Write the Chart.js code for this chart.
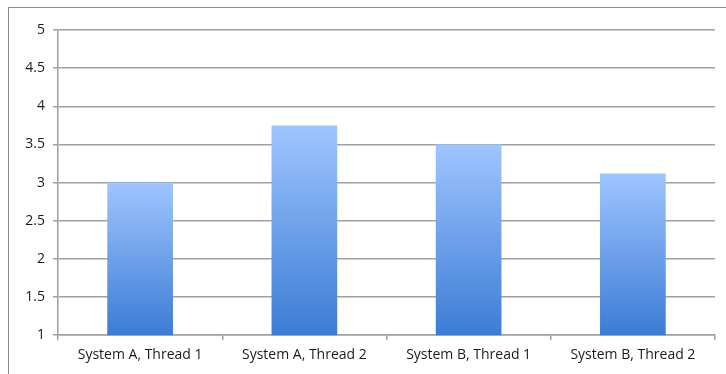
<!DOCTYPE html>
<html>
<head>
<meta charset="utf-8">
<script src="https://cdn.jsdelivr.net/npm/chart.js@4"></script>
<style>
  html, body { margin: 0; padding: 0; background: #fff; }
  #wrap { position: relative; width: 726px; height: 374px; overflow: hidden; }
  #frame { position: absolute; left: 8px; top: 7px; width: 730px; height: 380px; border: 1px solid #8c8c8c; box-sizing: border-box; }
  canvas { position: absolute; left: 0; top: 0; }
</style>
</head>
<body>
<div id="wrap">
  <div id="frame"></div>
  <canvas id="myBarChart" width="726" height="374"></canvas>
</div>
<script>
// categories and values
const categories = ["System A, Thread 1", "System A, Thread 2", "System B, Thread 1", "System B, Thread 2"];
const values = [3.0, 3.75, 3.5, 3.12];
const yTicks = [1, 1.5, 2, 2.5, 3, 3.5, 4, 4.5, 5];

function barGradient(ctx) {
    const chart = ctx.chart;
    const area = chart.chartArea;
    if (!area || ctx.raw === undefined) return "#6a9ee8";
    const top = chart.scales.y.getPixelForValue(ctx.raw);
    const g = chart.ctx.createLinearGradient(0, top, 0, area.bottom);
    g.addColorStop(0, "#9fc5ff");
    g.addColorStop(1, "#3c7cd5");
    return g;
}

const cv = document.getElementById("myBarChart").getContext('2d');
const myBarChart = new Chart(cv, {
    type: 'bar',
    data: {
        labels: categories,
        datasets: [{
            data: values,
            backgroundColor: barGradient,
            borderWidth: 0,
            categoryPercentage: 0.8,
            barPercentage: 0.5
        }]
    },
    options: {
        responsive: false,
        animation: false,
        layout: {
            padding: { top: 30, right: 11, bottom: 5, left: 0 }
        },
        scales: {
            x: {
                grid: {
                    drawOnChartArea: false,
                    drawTicks: true,
                    tickLength: 5,
                    color: "#a0a0a0",
                    lineWidth: 1.5
                },
                border: { color: "#a0a0a0", width: 1.5 },
                ticks: {
                    color: "#1a1a1a",
                    padding: 6,
                    font: { family: "'Open Sans', 'Liberation Sans', sans-serif", size: 14 }
                }
            },
            y: {
                min: 1,
                max: 5,
                afterBuildTicks: (axis) => { axis.ticks = yTicks.map(v => ({ value: v })); },
                afterFit: (axis) => { axis.width = 58; },
                grid: {
                    color: "#a0a0a0",
                    lineWidth: 1.5,
                    tickLength: 5
                },
                border: { color: "#a0a0a0", width: 1.5 },
                ticks: {
                    color: "#1a1a1a",
                    padding: 8,
                    font: { family: "'Open Sans', 'Liberation Sans', sans-serif", size: 14 },
                    callback: (v) => String(v)
                }
            }
        },
        plugins: {
            legend: { display: false },
            tooltip: { enabled: false }
        }
    }
});
</script>
</body>
</html>
